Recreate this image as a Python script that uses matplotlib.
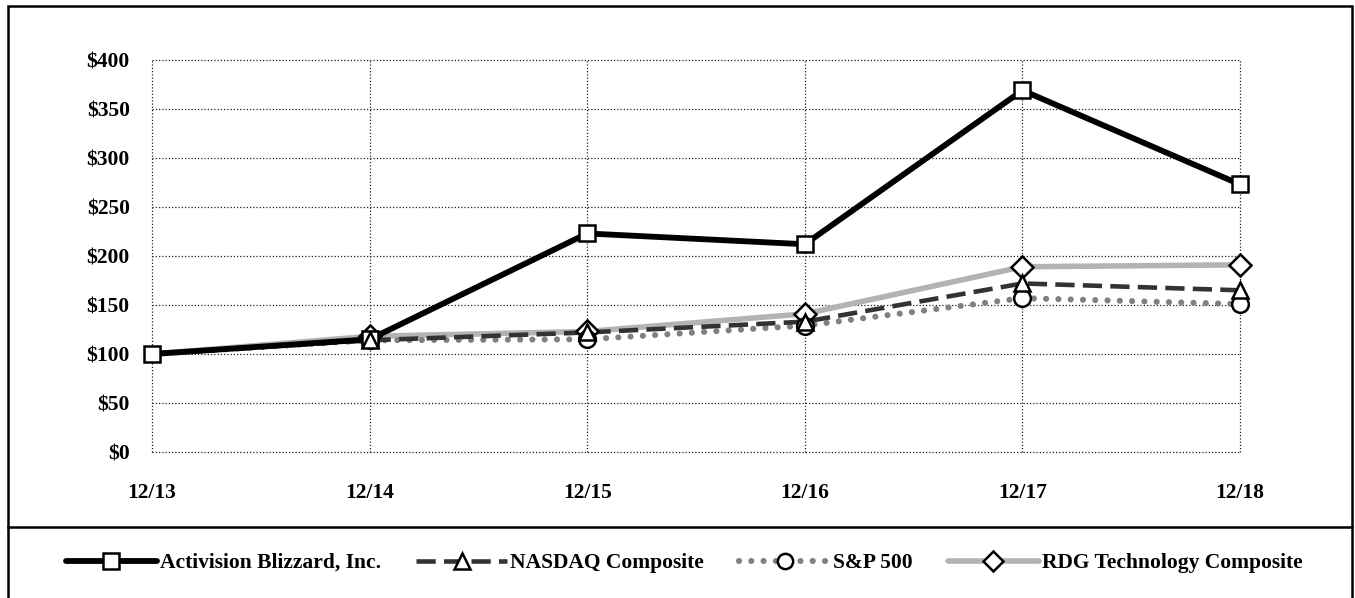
import matplotlib.pyplot as plt
from matplotlib.lines import Line2D
from matplotlib.patches import Rectangle

years = ['12/13', '12/14', '12/15', '12/16', '12/17', '12/18']
activision = [100, 115, 223, 212, 369, 273]
nasdaq = [100, 114, 122, 133, 172, 165]
sp500 = [100, 114, 115, 129, 157, 151]
rdg = [100, 118, 123, 141, 189, 191]
yticks = [0, 50, 100, 150, 200, 250, 300, 350, 400]

plt.rcParams['font.family'] = ['Liberation Serif', 'DejaVu Serif']
plt.rcParams['font.weight'] = 'bold'

fig = plt.figure(figsize=(13.55, 5.98), dpi=100)
ax = fig.add_axes([0.1122, 0.2441, 0.8030, 0.6556])

x = list(range(len(years)))

# name, data, line colour, line kwargs, marker, marker zorder
styles = [
    ('Activision Blizzard, Inc.', activision, 'black',
     dict(linestyle='-', lw=4.2, solid_capstyle='round'), 's', 8),
    ('NASDAQ Composite', nasdaq, '#333333',
     dict(linestyle=(0, (4.2, 1.8)), lw=3.3), '^', 9),
    ('S&P 500', sp500, '#808080',
     dict(linestyle=(0, (0.01, 2.0)), lw=4.4, dash_capstyle='round'), 'o', 7),
    ('RDG Technology Composite', rdg, '#b3b3b3',
     dict(linestyle='-', lw=4.0, solid_capstyle='round'), 'D', 6),
]
line_z = [5, 4, 3, 2]

handles = []
for i, (name, vals, col, kw, mk, mz) in enumerate(styles):
    ax.plot(x, vals, color=col, zorder=line_z[i], clip_on=False, **kw)
    ms = 12 if mk != 'D' else 11
    start = 0 if i == 0 else 1
    ax.plot(x[start:], vals[start:], linestyle='none', marker=mk, markersize=ms,
            markerfacecolor='white', markeredgecolor='black',
            markeredgewidth=1.8, zorder=mz, clip_on=False)
    handles.append(Line2D([], [], color=col, marker=mk, markersize=ms - 1,
                          markerfacecolor='white', markeredgecolor='black',
                          markeredgewidth=1.8, label=name, **kw))

ax.set_xlim(0, len(years) - 1)
ax.set_ylim(0, 400)
ax.set_xticks(x)
ax.set_xticklabels(years)
ax.set_yticks(yticks)
ax.set_yticklabels(['$%d' % v for v in yticks])
ax.tick_params(length=0, labelsize=15.5)
ax.tick_params(axis='y', pad=16)
ax.tick_params(axis='x', pad=22)
for s in ax.spines.values():
    s.set_visible(False)
ax.grid(True, color='#222222', linestyle=(0, (1, 1.6)), linewidth=0.9)
ax.set_axisbelow(True)
for gl in ax.get_xgridlines() + ax.get_ygridlines():
    gl.set_clip_on(False)

# outer frame and divider
fig.patches.append(Rectangle((8 / 1355, -0.01), 1344 / 1355, 1 - 6 / 598 + 0.01,
                             transform=fig.transFigure, fill=False,
                             edgecolor='black', linewidth=1.8))
fig.add_artist(Line2D([8 / 1355, 1352 / 1355], [1 - 527 / 598] * 2,
                      transform=fig.transFigure, color='black', linewidth=1.8))

fig.legend(handles=handles, loc='center', bbox_to_anchor=(0.505, 1 - 563 / 598),
           ncol=4, frameon=False, fontsize=15.5, handlelength=4.2,
           handletextpad=0.15, columnspacing=1.65, numpoints=1)

fig.savefig('out.png', dpi=100)
